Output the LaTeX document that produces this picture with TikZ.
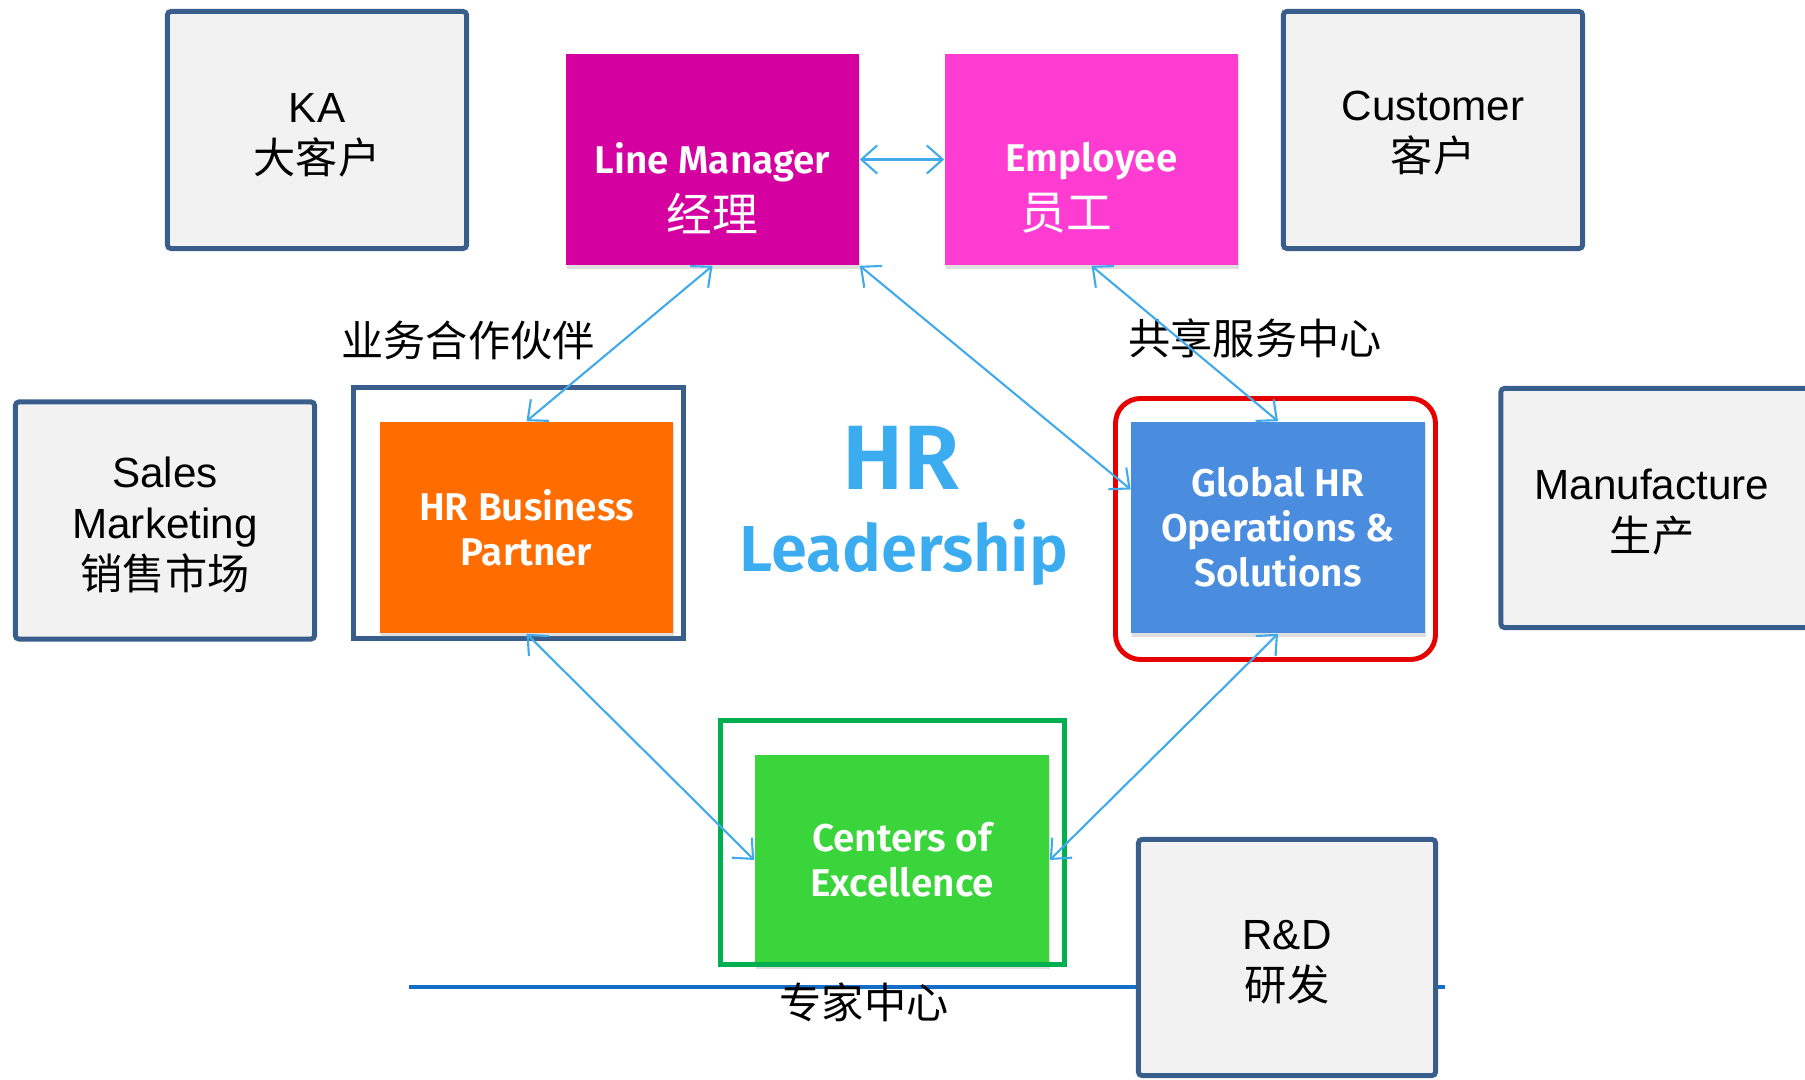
\documentclass[tikz,border=0pt]{standalone}
\usepackage{fontspec}
\setmainfont{Liberation Sans}
\newfontfamily\cjk{Noto Sans CJK SC}
\newfontfamily\boxfont{Fira Sans SemiBold}
\usetikzlibrary{arrows.meta,shadows}
\definecolor{navy}{RGB}{58,94,140}
\definecolor{boxgray}{RGB}{242,242,242}
\definecolor{lmpink}{RGB}{213,0,160}
\definecolor{emppink}{RGB}{255,60,210}
\definecolor{bporange}{RGB}{255,108,0}
\definecolor{opsblue}{RGB}{74,141,222}
\definecolor{coegreen}{RGB}{58,213,58}
\definecolor{ringred}{RGB}{230,0,0}
\definecolor{ringgreen}{RGB}{0,176,80}
\definecolor{linkblue}{RGB}{64,170,235}
\definecolor{hrblue}{RGB}{60,172,240}
\definecolor{divblue}{RGB}{20,110,200}
\tikzstyle{client}=[rectangle,draw=navy,line width=1.4pt,fill=boxgray,rounded corners=1pt,minimum width=2.99cm,minimum height=2.37cm,inner sep=0pt]
\tikzstyle{clienttext}=[align=center,font=\fontsize{12}{14.6}\selectfont]
\tikzstyle{hrbox}=[rectangle,minimum width=2.93cm,minimum height=2.11cm,inner sep=0pt,align=center,text=white,font=\boxfont\fontsize{11}{12.8}\selectfont,drop shadow={shadow xshift=0.3pt,shadow yshift=-1pt,opacity=0.25}]
\tikzstyle{hrtext}=[align=center,text=white,font=\boxfont\fontsize{11}{16.5}\selectfont]
\tikzstyle{ringframe}=[line width=1.4pt]
\tikzstyle{rolelabel}=[font=\cjk\fontsize{12}{14}\selectfont]
\tikzstyle{hrlink}=[draw,linkblue,line width=0.6pt,{Straight Barb[length=4.5pt,width=8pt]}-{Straight Barb[length=4.5pt,width=8pt]}]

\begin{document}
\begin{tikzpicture}[x=0.01cm,y=-0.01cm]
    \useasboundingbox (0,0) rectangle (1805,1080);

    % line under the centre of excellence
    \draw[color=divblue,line width=1.1pt] (409,987) -- (1445,987);

    % business units
    \node[client] (ka) at (317,130) {};
    \node[clienttext] (katxt) at (317,135) {KA\\{\cjk 大客户}};
    \node[client] (cust) at (1433,130) {};
    \node[clienttext] (custtxt) at (1433,133) {Customer\\{\cjk 客户}};
    \node[client] (sales) at (165,520.5) {};
    \node[clienttext] (salestxt) at (165,525) {Sales\\Marketing\\{\cjk 销售市场}};
    \node[client,minimum width=3.08cm,minimum height=2.39cm] (manu) at (1655,508) {};
    \node[clienttext] (manutxt) at (1652,512) {Manufacture\\{\cjk 生产}};
    \node[client,minimum width=2.97cm,minimum height=2.36cm] (rd) at (1287,957.5) {};
    \node[clienttext] (rdtxt) at (1287,962) {R\&D\\{\cjk 研发}};

    % frames
    \draw[ringframe,draw=navy,fill=white] (353.5,387.5) rectangle (683.5,638.5);
    \draw[ringframe,draw=ringred,rounded corners=0.25cm] (1115.5,398.5) rectangle (1435.5,659.5);

    % HR roles
    \node[hrbox,fill=lmpink] (lm) at (712.5,159.5) {};
    \node[hrtext] (lmtxt) at (712.5,188) {Line Manager\\{\cjk\fontsize{13}{16.5}\selectfont 经理}};
    \node[hrbox,fill=emppink] (emp) at (1091.5,159.5) {};
    \node[hrtext] (emptxt) at (1091.5,188) {Employee\\{\cjk\fontsize{13}{16.5}\selectfont 员工}\hspace*{0.5cm}};
    \node[hrbox,fill=bporange] (hrbp) at (526.5,527.5) {HR Business\\Partner};
    \node[hrbox,fill=opsblue] (glo) at (1278,527.5) {Global HR\\Operations \&\\Solutions};
    \node[hrbox,fill=coegreen,minimum width=2.94cm,minimum height=2.10cm] (coe) at (902,860) {Centers of\\Excellence};
    \draw[ringframe,draw=ringgreen] (720.5,720.5) rectangle (1064.5,964.5);

    \node[font=\boxfont\fontsize{26}{30}\selectfont,text=hrblue] (hrtitle) at (901,458) {HR};
    \node[font=\boxfont\fontsize{18.5}{22}\selectfont,text=hrblue] (leadtitle) at (904,553) {Leadership};

    \node[rolelabel] (bplabel) at (468,340) {业务合作伙伴};
    \node[rolelabel] (sslabel) at (1255,338) {共享服务中心};
    \node[rolelabel] (coelabel) at (864,1002) {专家中心};

    \path[hrlink] (lm.east) -- (emp.west);
    \path[hrlink] (lm.south) -- (hrbp.north);
    \path[hrlink] (lm.south east) -- ([yshift=0.38cm]glo.west);
    \path[hrlink] (emp.south) -- (glo.north);
    \path[hrlink] (hrbp.south) -- (coe.west);
    \path[hrlink] (glo.south) -- (coe.east);
\end{tikzpicture}
\end{document}
